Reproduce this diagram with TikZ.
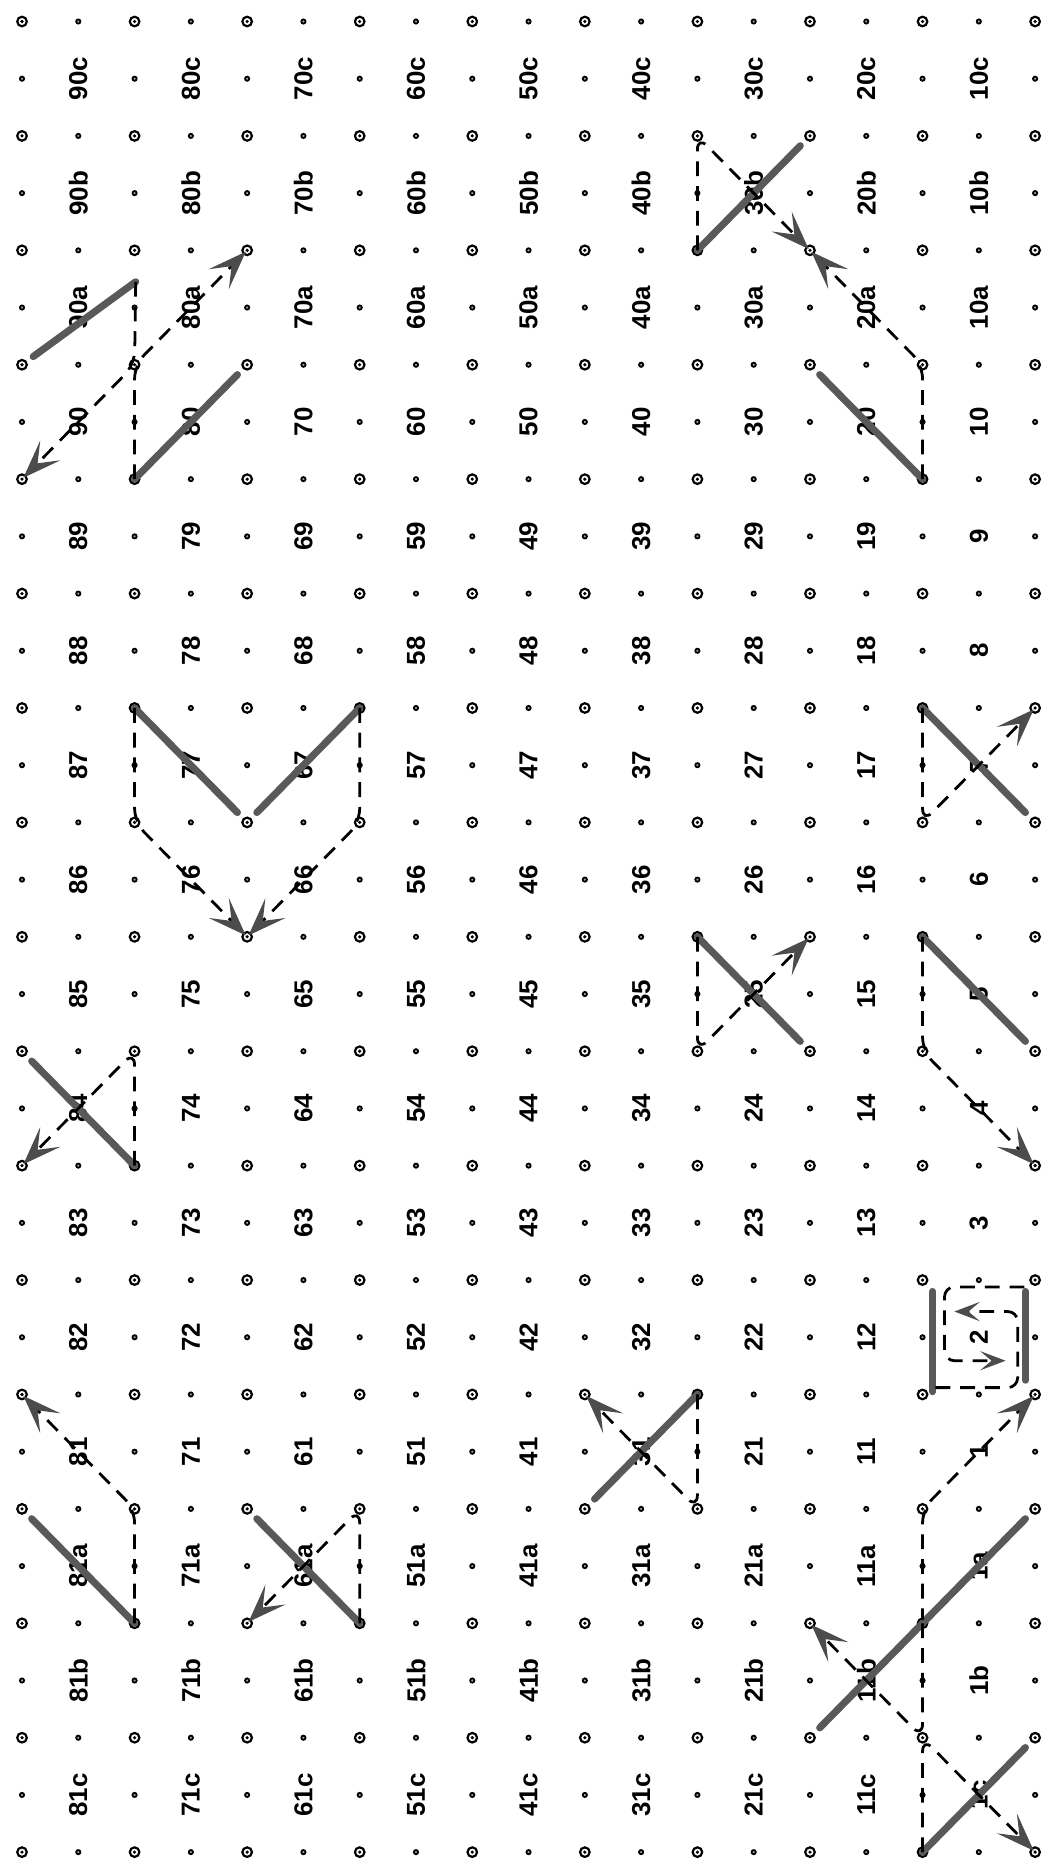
\documentclass[tikz,border=0pt]{standalone}
\usepackage{fontspec}
\setmainfont{Liberation Sans}
\usetikzlibrary{arrows.meta}
\begin{document}
\begin{tikzpicture}[x=1cm,y=-1.0164cm,font=\fontsize{13.1}{15}\selectfont\bfseries,
  hole/.style={circle,draw,line width=1.1pt,minimum size=0.17cm,inner sep=0pt,
    path picture={\fill (path picture bounding box.center) circle (0.9pt);}},
  pin/.style={circle,draw,fill=black!35,line width=0.9pt,minimum size=0.075cm,inner sep=0pt},
  lab/.style={rotate=90,inner sep=0pt},
  stitch/.style={line width=3.6pt,black!65,line cap=round,shorten <=7pt},
  back/.style={line width=1.4pt,dash pattern=on 7.5pt off 5pt,rounded corners=7pt,shorten >=1pt,
    -{Stealth[length=0.68cm,width=0.5cm,inset=0.32cm,color=black!70]}},
  backbox/.style={back,rounded corners=5pt,-{Stealth[length=0.45cm,width=0.34cm,inset=0.2cm,color=black!70]}}]
\useasboundingbox (-0.391,-0.376) rectangle (18.248,32.40);
\foreach \i in {0,...,18}
  \foreach \j in {0,...,32}{
    \coordinate (h-\i-\j) at (\i,\j);
    \pgfmathtruncatemacro\odds{mod(\i,2)+mod(\j,2)}
    \ifcase\odds \node[hole] (d-\i-\j) at (h-\i-\j) {};
    \or \node[pin] (d-\i-\j) at (h-\i-\j) {};
    \fi
  }
\foreach \k in {0,...,8}{
  \pgfmathtruncatemacro\tcol{2*\k+1}
  \pgfmathtruncatemacro\highv{90-10*\k}
  \pgfmathtruncatemacro\lowv{81-10*\k}
  \node[lab] (l-\tcol-1) at (h-\tcol-1) {\highv c};
  \node[lab] (l-\tcol-3) at (h-\tcol-3) {\highv b};
  \node[lab] (l-\tcol-5) at (h-\tcol-5) {\highv a};
  \foreach \m in {0,...,9}{
    \pgfmathtruncatemacro\rw{7+2*\m}
    \pgfmathtruncatemacro\nm{\highv-\m}
    \node[lab] (l-\tcol-\rw) at (h-\tcol-\rw) {\nm};
  }
  \node[lab] (l-\tcol-27) at (h-\tcol-27) {\lowv a};
  \node[lab] (l-\tcol-29) at (h-\tcol-29) {\lowv b};
  \node[lab] (l-\tcol-31) at (h-\tcol-31) {\lowv c};
}
\coordinate (t1) at (2.02,4.55);
\draw[stitch] (h-0-6) -- (t1);
\draw[back] (t1) -- (h-2-6) -- (h-0-8);
\draw[stitch] (h-4-6) -- (h-2-8);
\draw[back] (h-2-8) -- (h-2-6) -- (h-4-4);
\draw[stitch] (h-14-2) -- (h-12-4);
\draw[back] (h-12-4) -- (h-12-2) -- (h-14-4);
\draw[stitch] (h-14-6) -- (h-16-8);
\draw[back] (h-16-8) -- (h-16-6) -- (h-14-4);
\draw[stitch] (h-4-14) -- (h-2-12);
\draw[back] (h-2-12) -- (h-2-14) -- (h-4-16);
\draw[stitch] (h-4-14) -- (h-6-12);
\draw[back] (h-6-12) -- (h-6-14) -- (h-4-16);
\draw[stitch] (h-18-14) -- (h-16-12);
\draw[back] (h-16-12) -- (h-16-14) -- (h-18-12);
\draw[stitch] (h-0-18) -- (h-2-20);
\draw[back] (h-2-20) -- (h-2-18) -- (h-0-20);
\draw[stitch] (h-14-18) -- (h-12-16);
\draw[back] (h-12-16) -- (h-12-18) -- (h-14-16);
\draw[stitch] (h-18-18) -- (h-16-16);
\draw[back] (h-16-16) -- (h-16-18) -- (h-18-20);
\coordinate (s1) at (16.18,22.2);
\coordinate (s2) at (16.18,23.95);
\coordinate (s3) at (17.83,22.2);
\coordinate (s4) at (17.83,23.75);
\draw[stitch,shorten <=0pt] (s1) -- (s2);
\draw[stitch,shorten <=0pt] (s3) -- (s4);
\coordinate (a1) at (17.81,22.12);
\coordinate (a2) at (17.51,23.41);
\coordinate (b1) at (16.23,23.88);
\coordinate (b2) at (16.53,22.55);
\draw[backbox] (a1) -| (16.39,23.41) -- (a2);
\draw[backbox] (b1) -| (17.69,22.55) -- (b2);
\draw[stitch] (h-0-26) -- (h-2-28);
\draw[back] (h-2-28) -- (h-2-26) -- (h-0-24);
\draw[stitch] (h-4-26) -- (h-6-28);
\draw[back] (h-6-28) -- (h-6-26) -- (h-4-28);
\draw[stitch] (h-10-26) -- (h-12-24);
\draw[back] (h-12-24) -- (h-12-26) -- (h-10-24);
\draw[stitch] (h-18-26) -- (h-16-28);
\draw[back] (h-16-28) -- (h-16-26) -- (h-18-24);
\draw[stitch] (h-14-30) -- (h-16-28);
\draw[back] (h-16-28) -- (h-16-30) -- (h-14-28);
\draw[stitch] (h-18-30) -- (h-16-32);
\draw[back] (h-16-32) -- (h-16-30) -- (h-18-32);
\end{tikzpicture}
\end{document}
